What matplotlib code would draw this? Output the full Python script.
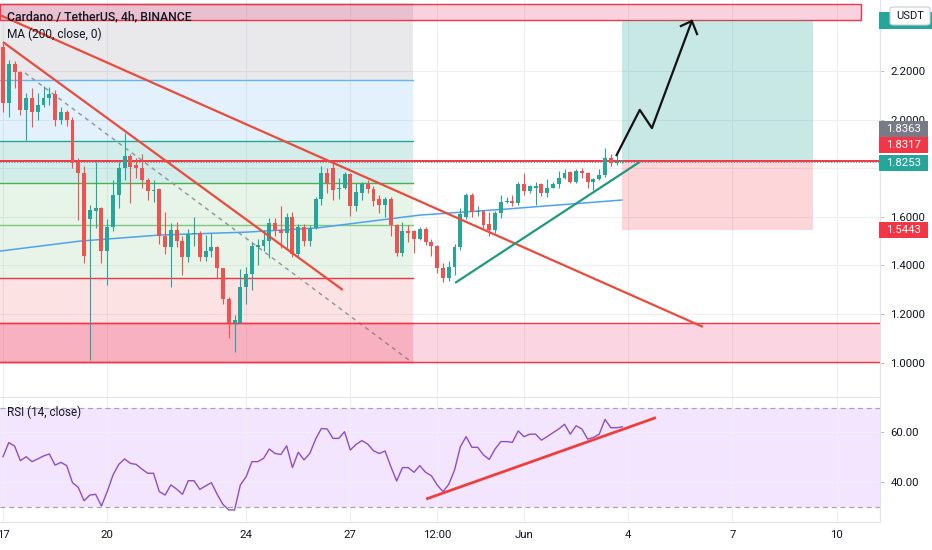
import numpy as np
import matplotlib
matplotlib.use("Agg")
import matplotlib.pyplot as plt
from matplotlib.patches import Rectangle, FancyBboxPatch

plt.rcParams['font.family'] = ['Roboto', 'DejaVu Sans']

W, H = 932, 550
GREEN = '#26a69a'
RED = '#ef5350'
TXT = '#131722'

# 4h candles, index 0 = May 17 00:00 (6 bars per day)
opens = [2.30, 2.07, 2.23, 2.195, 2.04, 2.09, 2.03, 2.06, 2.09, 2.105, 2.00, 2.03, 2.00, 1.825, 1.78, 1.59,
         1.625, 1.635, 1.46, 1.56, 1.69, 1.80, 1.85, 1.815, 1.80, 1.75, 1.705, 1.715, 1.52, 1.475, 1.545, 1.50,
         1.435, 1.53, 1.535, 1.435, 1.46, 1.475, 1.39, 1.26, 1.165, 1.165, 1.31, 1.365, 1.475, 1.48, 1.50, 1.575,
         1.545, 1.535, 1.60, 1.445, 1.56, 1.50, 1.555, 1.675, 1.78, 1.80, 1.715, 1.72, 1.775, 1.645, 1.70, 1.735,
         1.715, 1.675, 1.65, 1.675, 1.565, 1.45, 1.54, 1.54, 1.51, 1.55, 1.495, 1.48, 1.39, 1.35, 1.395, 1.475,
         1.60, 1.69, 1.62, 1.625, 1.57, 1.545, 1.615, 1.66, 1.665, 1.655, 1.735, 1.705, 1.72, 1.735, 1.70, 1.72,
         1.735, 1.76, 1.785, 1.745, 1.79, 1.78, 1.745, 1.755, 1.77, 1.84, 1.82, 1.825]
highs = [2.315, 2.245, 2.24, 2.20, 2.11, 2.13, 2.11, 2.14, 2.135, 2.12, 2.05, 2.04, 2.01, 1.84, 1.81, 1.65,
         1.825, 1.64, 1.59, 1.75, 1.825, 1.945, 1.86, 1.84, 1.86, 1.76, 1.75, 1.72, 1.62, 1.575, 1.58, 1.52,
         1.55, 1.60, 1.54, 1.525, 1.535, 1.48, 1.39, 1.27, 1.195, 1.385, 1.395, 1.495, 1.51, 1.545, 1.595, 1.595,
         1.645, 1.615, 1.62, 1.57, 1.57, 1.565, 1.68, 1.81, 1.80, 1.83, 1.76, 1.785, 1.78, 1.74, 1.745, 1.75,
         1.725, 1.69, 1.68, 1.68, 1.57, 1.58, 1.565, 1.545, 1.56, 1.56, 1.51, 1.485, 1.41, 1.42, 1.49, 1.635,
         1.70, 1.70, 1.645, 1.63, 1.62, 1.625, 1.69, 1.68, 1.69, 1.745, 1.78, 1.73, 1.745, 1.74, 1.755, 1.745,
         1.79, 1.795, 1.79, 1.795, 1.80, 1.785, 1.76, 1.795, 1.885, 1.86, 1.855, 1.835]
lows = [2.03, 2.01, 2.13, 2.02, 1.915, 1.97, 2.00, 2.05, 2.06, 1.975, 1.98, 1.975, 1.80, 1.585, 1.41, 1.01,
        1.555, 1.41, 1.32, 1.54, 1.635, 1.75, 1.655, 1.76, 1.72, 1.67, 1.66, 1.49, 1.445, 1.31, 1.475, 1.36,
        1.415, 1.48, 1.42, 1.42, 1.435, 1.35, 1.24, 1.10, 1.045, 1.165, 1.24, 1.30, 1.40, 1.46, 1.43, 1.52,
        1.47, 1.47, 1.435, 1.435, 1.48, 1.48, 1.55, 1.65, 1.70, 1.67, 1.675, 1.715, 1.605, 1.625, 1.67, 1.70,
        1.645, 1.615, 1.60, 1.52, 1.44, 1.44, 1.495, 1.45, 1.505, 1.485, 1.44, 1.37, 1.33, 1.335, 1.36, 1.465,
        1.59, 1.60, 1.605, 1.555, 1.52, 1.535, 1.595, 1.655, 1.645, 1.65, 1.69, 1.70, 1.65, 1.685, 1.68, 1.72,
        1.72, 1.755, 1.74, 1.74, 1.76, 1.72, 1.71, 1.75, 1.765, 1.81, 1.815, 1.82]
closes = [2.07, 2.23, 2.195, 2.04, 2.09, 2.03, 2.06, 2.09, 2.105, 2.00, 2.03, 2.00, 1.82, 1.78, 1.44, 1.63,
          1.635, 1.46, 1.56, 1.69, 1.80, 1.85, 1.805, 1.80, 1.75, 1.705, 1.71, 1.52, 1.475, 1.545, 1.50, 1.435,
          1.53, 1.535, 1.435, 1.46, 1.475, 1.39, 1.26, 1.165, 1.175, 1.31, 1.365, 1.48, 1.485, 1.505, 1.575, 1.545,
          1.535, 1.60, 1.445, 1.56, 1.50, 1.555, 1.675, 1.78, 1.74, 1.71, 1.72, 1.775, 1.645, 1.70, 1.735, 1.715,
          1.665, 1.65, 1.675, 1.565, 1.45, 1.54, 1.535, 1.51, 1.55, 1.495, 1.48, 1.39, 1.35, 1.395, 1.475, 1.61,
          1.69, 1.62, 1.625, 1.565, 1.545, 1.615, 1.66, 1.665, 1.655, 1.735, 1.705, 1.725, 1.725, 1.70, 1.72, 1.735,
          1.76, 1.78, 1.745, 1.79, 1.78, 1.745, 1.755, 1.77, 1.84, 1.82, 1.825, 1.8253]
rsi = [50.2, 55.9, 54.5, 48.6, 50.2, 48.2, 49.3, 50.5, 51.3, 46.8, 47.9, 46.6, 39.7, 37.8, 32.4, 34.7,
       35.0, 30.3, 36.1, 42.8, 47.1, 49.3, 47.5, 47.1, 45.2, 43.5, 43.5, 36.1, 34.7, 38.8, 37.1, 35.0,
       40.5, 40.5, 37.0, 38.4, 39.7, 35.0, 30.9, 28.7, 28.7, 38.8, 42.1, 48.2, 48.2, 49.5, 53.3, 51.5,
       51.1, 54.6, 45.8, 52.0, 48.9, 51.5, 57.3, 61.6, 61.4, 57.6, 57.6, 60.3, 52.9, 55.2, 56.7, 55.3,
       52.6, 51.5, 52.5, 46.2, 40.4, 45.8, 45.8, 43.9, 46.6, 43.9, 42.5, 38.8, 36.1, 39.0, 44.8, 54.2,
       58.3, 54.0, 54.0, 50.9, 49.1, 53.3, 56.3, 56.3, 56.0, 60.6, 58.3, 59.3, 59.3, 56.9, 58.3, 59.9,
       61.4, 63.3, 59.3, 62.7, 61.4, 57.3, 58.0, 59.3, 65.3, 61.9, 61.9, 62.3]

# MA(200) (bar index, price)
ma_x = [-0.5, 13.3, 27.1, 42.1, 54.2, 72.0, 87.0, 106.9]
ma_y = [1.459, 1.500, 1.525, 1.537, 1.554, 1.607, 1.632, 1.669]

# time axis
tick_days = [0, 3, 7, 10, 12.5, 15, 18, 21, 24]
tick_labels = ['17', '20', '24', '27', '12:00', 'Jun', '4', '7', '10']
price_ticks = [1.0, 1.2, 1.4, 1.6, 1.8, 2.0, 2.2]
price_labels = ['1.0000', '1.2000', '1.4000', '1.6000', '', '2.0000', '2.2000']  # 1.8000 sits under the tags

# drawing objects (bar index, price)
fib_levels = [2.476, 2.163, 1.912, 1.739, 1.566, 1.348, 1.163, 1.002]
fib_line_colors = ['#787b86', '#64b5f6', '#26a69a', '#4caf50', '#81c784', '#f23645', '#f23645', '#f23645']
fib_fill = [('#787b86', 0.16), ('#64b5f6', 0.18), ('#26a69a', 0.2), ('#4caf50', 0.13),
            ('#81c784', 0.18), ('#f23645', 0.14), ('#f23645', 0.22)]
fib_end = 70.8
trend_long = ([-0.5, 120.9], [2.430, 1.147])
trend_steep = ([0.0, 58.7], [2.319, 1.299])
trend_diag = ([3.8, 70.6], [2.192, 1.002])
trend_up = ([78.1, 110.0], [1.328, 1.826])
arrow_x = [106.0, 110.0, 112.1, 119.0]
arrow_y = [1.854, 2.040, 1.965, 2.406]
arrow_wings = ([117.1, 119.0, 119.9], [2.385, 2.406, 2.352])
top_zone = (-0.5, 148.2, 2.410, 2.476)
low_zone = (1.002, 1.163)
pos_x = (106.9, 139.9)
pos_target, pos_entry, pos_stop = 2.410, 1.830, 1.5443
resist = 1.830
last_price = 1.8253
rsi_trend = ([73.1, 112.8], [33.1, 66.0])

XL = (-0.52, 151.5)

fig = plt.figure(figsize=(W / 100, H / 100), dpi=100)
ax = fig.add_axes([0, 1 - 397 / H, 880 / W, 397 / H])
ar = fig.add_axes([0, 1 - 522 / H, 880 / W, 124 / H])

for a in (ax, ar):
    a.set_xlim(*XL)
    a.set_axisbelow(True)
    for s in a.spines.values():
        s.set_visible(False)
    a.spines['right'].set_visible(True)
    a.spines['right'].set_color('#e0e3eb')
    a.spines['bottom'].set_visible(True)
    a.spines['bottom'].set_color('#e0e3eb')
    a.set_xticks([d * 6 for d in tick_days])
    a.grid(True, color='#eeeff3', lw=0.8)
    a.yaxis.tick_right()
    a.tick_params(axis='y', length=3, width=0.6, color='#b2b5be', pad=4.5,
                  labelsize=8.2, labelcolor=TXT)
    a.tick_params(axis='x', length=0, pad=6, labelsize=8.2, labelcolor=TXT)

ax.set_ylim(2.2 - 326 / 243, 2.2 + 71 / 243)
ax.set_yticks(price_ticks)
ax.set_yticklabels(price_labels)
ax.set_xticklabels([])

# fib zones
for k in range(len(fib_levels) - 1):
    c, al = fib_fill[k]
    ax.add_patch(Rectangle((XL[0], fib_levels[k + 1]), fib_end - XL[0], fib_levels[k] - fib_levels[k + 1],
                           facecolor=c, alpha=al, lw=0, zorder=1))
for lv, c in zip(fib_levels, fib_line_colors):
    ax.plot([XL[0], fib_end], [lv, lv], color=c, lw=1, zorder=2)
ax.plot(*trend_diag, color='#8f929b', lw=1, ls=(0, (3, 3)), zorder=2)

# zones
ax.add_patch(Rectangle((top_zone[0], top_zone[2]), top_zone[1] - top_zone[0], top_zone[3] - top_zone[2],
                       facecolor='#e91e63', alpha=0.2, lw=0, zorder=2))
ax.add_patch(Rectangle((top_zone[0], top_zone[2]), top_zone[1] - top_zone[0], top_zone[3] - top_zone[2],
                       facecolor='none', edgecolor='#f23645', lw=1, zorder=2))
ax.add_patch(Rectangle((XL[0], low_zone[0]), XL[1] - XL[0], low_zone[1] - low_zone[0],
                       facecolor='#e91e63', alpha=0.18, lw=0, zorder=2))
for lv in low_zone:
    ax.plot(XL, [lv, lv], color='#f23645', lw=1, zorder=2)

# long position
ax.add_patch(Rectangle((pos_x[0], pos_entry), pos_x[1] - pos_x[0], pos_target - pos_entry,
                       facecolor=GREEN, alpha=0.25, lw=0, zorder=2))
ax.add_patch(Rectangle((pos_x[0], pos_stop), pos_x[1] - pos_x[0], pos_entry - pos_stop,
                       facecolor='#f23645', alpha=0.2, lw=0, zorder=2))

ax.axhline(resist, color='#f23645', lw=1.4, zorder=3)
ax.axhline(last_price, color='#5b9e96', lw=0.8, ls=(0, (1, 1.5)), zorder=3)

# MA
ax.plot(ma_x, ma_y, color='#4da3ee', lw=1.1, zorder=3)

# candles
idx = np.arange(len(closes))
o, hi, lo, c = map(np.array, (opens, highs, lows, closes))
col = np.where(c >= o, GREEN, RED)
ax.vlines(idx, lo, hi, colors=col, lw=0.8, zorder=4)
ax.bar(idx, np.maximum(np.abs(c - o), 0.004), bottom=np.minimum(o, c), width=0.68,
       color=col, lw=0, zorder=5)

# trend lines
ax.plot(*trend_long, color='#ec4a3c', lw=1.6, zorder=6, solid_capstyle='butt')
ax.plot(*trend_steep, color='#ec4a3c', lw=1.6, zorder=6, solid_capstyle='butt')
ax.plot(*trend_up, color='#1e9a80', lw=1.6, zorder=6, solid_capstyle='butt')
ax.plot(arrow_x, arrow_y, color='#131313', lw=1.6, zorder=7)
ax.plot(*arrow_wings, color='#131313', lw=1.6, zorder=7)

# RSI pane
ar.set_ylim(70 - 114.3 / 2.475, 70 + 9.7 / 2.475)
ar.set_yticks([40, 60])
ar.set_yticklabels(['40.00', '60.00'])
ar.set_xticklabels(tick_labels)
ar.axhspan(30, 70, color='#f3e5fd', lw=0, zorder=0.2)
for lv in (30, 70):
    ar.axhline(lv, color='#a9a4b8', lw=0.9, ls=(0, (4, 3)), zorder=1)
ar.plot(idx, rsi, color='#8e4ec6', lw=1.0, zorder=3)
ar.plot(*rsi_trend, color='#ef3e3e', lw=2, zorder=4, solid_capstyle='butt')


def fx(x):
    return x / W


def fy(y):
    return 1 - y / H


# legends
fig.text(fx(7), fy(17), 'Cardano / TetherUS, 4h, BINANCE', fontsize=8.8, color=TXT, va='center',
         fontweight='medium')
fig.text(fx(7), fy(34), 'MA (200, close, 0)', fontsize=8.6, color=TXT, va='center')
fig.text(fx(7), fy(412), 'RSI (14, close)', fontsize=8.4, color=TXT, va='center')

# price tags on the axis
tags = [('1.8363', '#787b86', 129), ('1.8317', '#f23645', 145), ('1.8253', GREEN, 163),
        ('1.5443', '#f23645', 230)]
for t, colr, yy in tags:
    fig.add_artist(Rectangle((fx(879), fy(yy + 8)), 49 / W, 16 / H, transform=fig.transFigure,
                             facecolor=colr, lw=0, zorder=10))
    fig.text(fx(903.5), fy(yy), t, fontsize=8.2, color='white', ha='center', va='center', zorder=11)

fig.add_artist(Rectangle((fx(879), fy(29)), 53 / W, 17 / H, transform=fig.transFigure,
                         facecolor=GREEN, lw=0, zorder=10))
fig.add_artist(FancyBboxPatch((fx(890), fy(25)), 40 / W, 18 / H, transform=fig.transFigure,
                              boxstyle='round,pad=0,rounding_size=0.004', facecolor='white',
                              edgecolor='#c9ccd3', lw=0.8, zorder=11))
fig.text(fx(910), fy(16), 'USDT', fontsize=8, color=TXT, ha='center', va='center', zorder=12)

fig.savefig('out.png', dpi=100)
